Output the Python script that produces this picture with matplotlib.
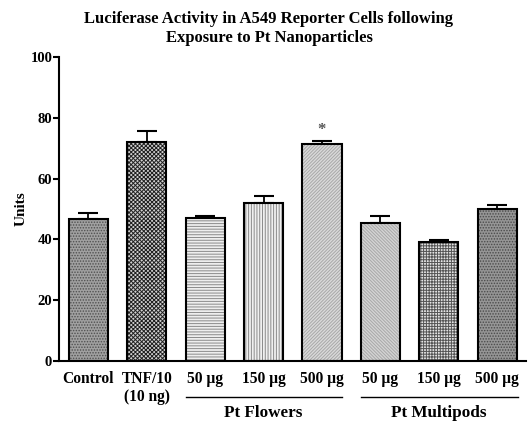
import matplotlib
matplotlib.use("Agg")
import matplotlib.pyplot as plt
import numpy as np

plt.rcParams['font.family'] = ['Liberation Serif', 'DejaVu Serif']
plt.rcParams['font.weight'] = 'bold'
plt.rcParams['hatch.linewidth'] = 0.7

labels = ['Control', 'TNF/10\n(10 ng)', '50 µg', '150 µg', '500 µg',
          '50 µg', '150 µg', '500 µg']
values = [46.8, 71.9, 47.0, 52.1, 71.5, 45.3, 39.0, 49.9]
errors = [2.0, 3.8, 0.8, 2.1, 1.0, 2.4, 0.7, 1.3]
groups = ['Pt Flowers', 'Pt Multipods']
group_span = [(2, 4), (5, 7)]
star_bar = 4

# fill colour, hatch colour, hatch
faces = ['#a0a0a0', '#d0d0d0', '#eeeeee', '#f0f0f0', '#dadada', '#d4d4d4', '#e4e4e4', '#959595']
hcols = ['#505050', '#202020', '#8a8a8a', '#8a8a8a', '#a8a8a8', '#a8a8a8', '#555555', '#4a4a4a']
hatches = ['......', 'xxxxxxxx', '------', '||||||', '//////////', '\\\\\\\\\\\\\\\\\\\\', '++++++', '......']

fig = plt.figure(figsize=(5.28, 4.3), dpi=100)
ax = fig.add_axes([0.112, 0.1605, 0.885, 0.707])

x = np.arange(len(values))
w = 0.67
for i in range(len(values)):
    ax.bar(x[i], values[i], w, color=faces[i], edgecolor=hcols[i], hatch=hatches[i],
           linewidth=0, zorder=2)
ax.bar(x, values, w, fill=False, edgecolor='black', linewidth=1.5, zorder=3)
ax.errorbar(x, values, yerr=[np.zeros(len(errors)), errors], fmt='none',
            ecolor='black', elinewidth=1.3, capsize=7.5, capthick=1.5, zorder=1)

ax.text(x[star_bar], values[star_bar] + errors[star_bar] + 3.5, '*', ha='center',
        va='center', fontsize=12, color='#555555')

ax.set_xlim(-0.5, 7.5)
ax.set_ylim(0, 100)
ax.set_yticks([0, 20, 40, 60, 80, 100])
ax.set_xticks(x)
ax.set_xticklabels(labels, fontsize=11.2, fontweight='bold')
ax.tick_params(axis='x', length=0, pad=7)
ax.tick_params(axis='y', length=4, width=1.5, labelsize=10.5, pad=1)
for lab in ax.get_yticklabels():
    lab.set_fontweight('bold')
ax.spines['top'].set_visible(False)
ax.spines['right'].set_visible(False)
ax.spines['left'].set_linewidth(1.5)
ax.spines['bottom'].set_linewidth(1.5)

ax.set_ylabel('Units', fontsize=11, fontweight='bold', labelpad=2)
ax.set_title('Luciferase Activity in A549 Reporter Cells following\nExposure to Pt Nanoparticles',
             fontsize=12, fontweight='bold', pad=11, linespacing=1.2, x=0.449)

tr = ax.get_xaxis_transform()
for g, (a, b) in zip(groups, group_span):
    ax.plot([a - 0.33, b + 0.35], [-0.118, -0.118], color='black', lw=1.0,
            transform=tr, clip_on=False)
    ax.text((a + b) / 2, -0.172, g, transform=tr, ha='center', va='center',
            fontsize=12.3, fontweight='bold')

fig.savefig('out.png', dpi=100)
